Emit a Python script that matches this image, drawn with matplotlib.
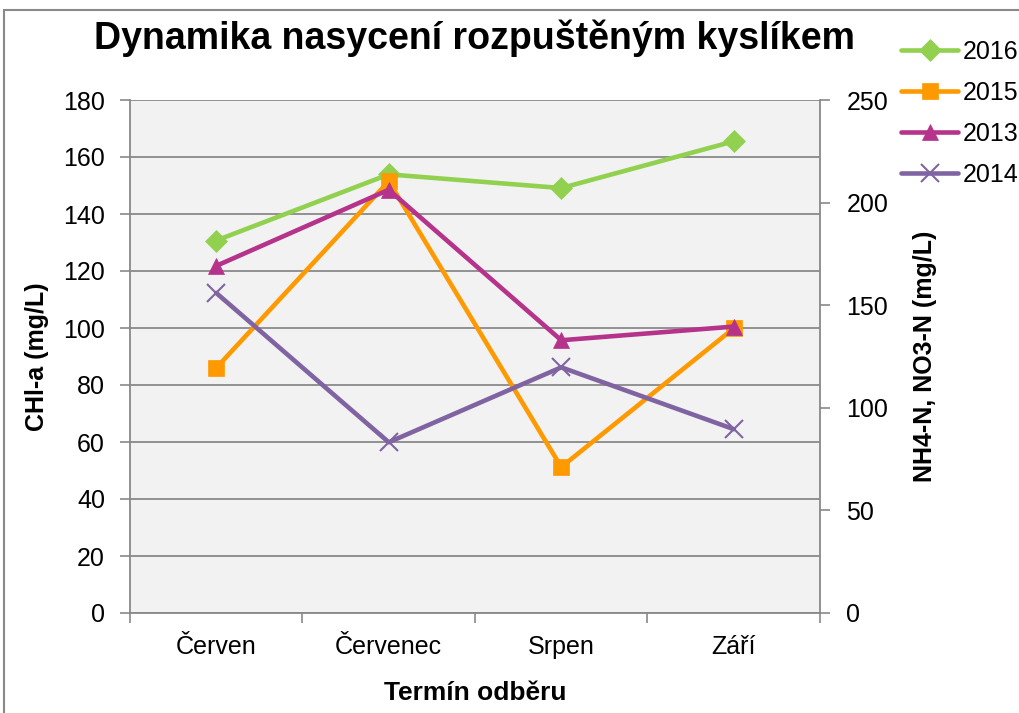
import matplotlib.pyplot as plt
from matplotlib.patches import Rectangle
from matplotlib.ticker import FixedLocator

plt.rcParams['font.family'] = ['Liberation Sans', 'DejaVu Sans']

# Sampling months and measured values per year
months = ['Červen', 'Červenec', 'Srpen', 'Září']
years = ['2016', '2015', '2013', '2014']
values_2016 = [130.7, 153.9, 149.1, 165.5]
values_2015 = [86.0, 151.5, 51.2, 99.9]
values_2013 = [121.8, 148.5, 95.7, 100.5]
values_2014 = [112.3, 59.9, 86.2, 64.5]

series = [values_2016, values_2015, values_2013, values_2014]
colors = ['#92D050', '#FF9900', '#B5338A', '#8064A2']
markers = ['D', 's', '^', 'x']
msizes = [11, 12, 12, 13]

fig = plt.figure(figsize=(10.2, 7.13), dpi=100)
ax = fig.add_axes([130 / 1020, 1 - 613 / 713, 690 / 1020, 513 / 713])
ax.set_facecolor('#F2F2F2')

x = list(range(len(months)))
for year, vals, c, m, ms in zip(years, series, colors, markers, msizes):
    ax.plot(x, vals, color=c, lw=3.3, marker=m, markersize=ms,
            markeredgecolor=c, markeredgewidth=1.5 if m == 'x' else 0.5,
            label=year, solid_capstyle='round')

ax.set_xlim(-0.5, 3.5)
ax.set_ylim(0, 180)
ax.set_yticks(range(0, 181, 20))
ax.set_xticks(x)
ax.set_xticklabels(months)
ax.xaxis.set_minor_locator(FixedLocator([-0.5, 0.5, 1.5, 2.5, 3.5]))
ax.tick_params(axis='x', which='major', length=0, labelsize=18, pad=16)
ax.tick_params(axis='x', which='minor', length=7, color='#898989', width=1.2)
ax.tick_params(axis='y', length=7, color='#898989', width=1.2, labelsize=18, pad=11)
ax.grid(axis='y', color='#898989', lw=1.3)
ax.set_axisbelow(True)
for side in ['left', 'bottom', 'right']:
    ax.spines[side].set_color('#898989')
    ax.spines[side].set_linewidth(1.3)
ax.spines['top'].set_visible(False)

ax.set_xlabel('Termín odběru', fontsize=19, fontweight='bold', labelpad=16)
ax.set_ylabel('CHl-a (mg/L)', fontsize=18, fontweight='bold', labelpad=10)

# Secondary axis for nitrogen forms
ax2 = ax.twinx()
ax2.set_ylim(0, 250)
ax2.set_yticks(range(0, 251, 50))
ax2.tick_params(axis='y', length=7, color='#898989', width=1.2, labelsize=18, pad=12)
for s in ax2.spines.values():
    s.set_visible(False)
ax2.set_ylabel('NH4-N, NO3-N (mg/L)', fontsize=18, fontweight='bold', labelpad=18)

fig.text(475 / 1020, 1 - 38 / 713, 'Dynamika nasycení rozpuštěným kyslíkem',
         fontsize=27, fontweight='bold', ha='center', va='center')

fig.legend(loc='upper left', bbox_to_anchor=(891 / 1020, 1 - 30 / 713),
           frameon=False, fontsize=18, handlelength=2.3, handletextpad=0.16,
           labelspacing=0.68, borderaxespad=0)

fig.add_artist(Rectangle((4 / 1020, -0.05), 1.1, 1 - 10 / 713 + 0.05,
                         transform=fig.transFigure, fill=False,
                         edgecolor='#898989', lw=1.5))

plt.savefig('out.png', dpi=100)
